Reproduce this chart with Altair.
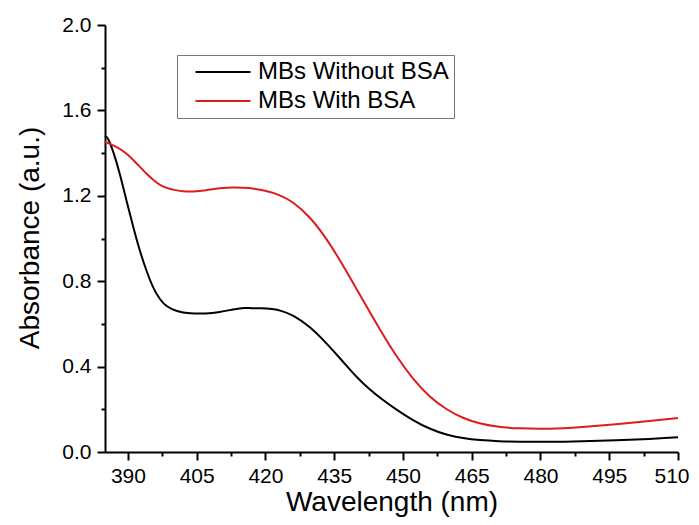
import altair as alt
import pandas as pd

series_names = ["MBs Without BSA", "MBs With BSA"]
series_colors = ["#000000", "#dd1c1c"]

wl_without = [385, 385.5, 386.8, 388.3, 389.7, 391.2, 392.6, 394.1, 395.5, 397, 398.4,
              400.6, 403.5, 407, 410, 413, 415.5, 417, 419, 421.5, 423.5, 426, 429.7,
              433.3, 436.9, 439.8, 442.5, 445.5, 448.6, 452.2, 455.8, 459.5, 463.1, 466.7,
              471, 475, 482, 489, 496.5, 504, 510]
abs_without = [1.475, 1.48, 1.41, 1.30, 1.175, 1.05, 0.94, 0.845, 0.767, 0.713, 0.681,
               0.658, 0.648, 0.648, 0.655, 0.668, 0.677, 0.672, 0.674, 0.67, 0.662, 0.642,
               0.588, 0.51, 0.424, 0.352, 0.297, 0.245, 0.198, 0.148, 0.108, 0.08, 0.064,
               0.055, 0.05, 0.048, 0.047, 0.05, 0.055, 0.061, 0.069]

wl_with = [385, 387.5, 389.7, 391.9, 394.1, 396.2, 397.3, 398.4, 400, 402, 404.2, 407.1,
           410, 413, 416.6, 418.8, 421, 423.1, 426, 429.7, 433.3, 436.9, 440.6, 444.5,
           448.4, 452.2, 455.8, 459.5, 463.1, 466.7, 470.4, 475, 482, 489, 496.5, 504, 510]
abs_with = [1.453, 1.43, 1.40, 1.352, 1.301, 1.262, 1.247, 1.237, 1.227, 1.221, 1.219,
            1.226, 1.236, 1.24, 1.237, 1.229, 1.218, 1.204, 1.173, 1.102, 1.001, 0.876,
            0.736, 0.59, 0.452, 0.34, 0.258, 0.198, 0.158, 0.133, 0.118, 0.11, 0.107,
            0.117, 0.13, 0.145, 0.159]

x_ticks = [390 + 7.5 * i for i in range(17)]
y_ticks = [round(0.2 * i, 1) for i in range(11)]

df = pd.concat([
    pd.DataFrame({"wl": wl_without, "A": abs_without, "series": series_names[0], "order": 0}),
    pd.DataFrame({"wl": wl_with, "A": abs_with, "series": series_names[1], "order": 1}),
])

FONT = "Liberation Sans"

x_axis = alt.Axis(
    values=x_ticks,
    labelExpr="datum.value % 15 == 0 ? datum.label : ''",
    tickSize={"condition": {"test": "datum.value % 15 == 0", "value": 8}, "value": 4},
    labelFlush=True,
    labelFlushOffset=11,
    labelOverlap=False,
    labelFont=FONT, labelFontSize=21, labelColor="#000", labelPadding=5,
    title="Wavelength (nm)", titleFont=FONT, titleFontSize=28, titleFontWeight="normal",
    titleColor="#000", titleY=58, titleBaseline="alphabetic",
    domainColor="#000", domainWidth=2, tickColor="#000", tickWidth=2,
    grid=False,
)
y_axis = alt.Axis(
    values=y_ticks,
    format=".1f",
    labelExpr="abs(datum.value*2.5 - round(datum.value*2.5)) < 0.001 ? datum.label : ''",
    tickSize={"condition": {"test": "abs(datum.value*2.5 - round(datum.value*2.5)) < 0.001", "value": 8}, "value": 4},
    labelOverlap=False,
    labelFlush=False,
    labelFont=FONT, labelFontSize=21, labelColor="#000", labelPadding=6,
    title="Absorbance (a.u.)", titleFont=FONT, titleFontSize=28, titleFontWeight="normal",
    titleColor="#000", titleAngle=270, titleX=-67, titleY=212.5, titleAlign="center",
    titleBaseline="alphabetic",
    domainColor="#000", domainWidth=2, tickColor="#000", tickWidth=2,
    grid=False,
)

chart = alt.Chart(df).mark_line(strokeWidth=2, interpolate="basis").encode(
    x=alt.X("wl:Q", scale=alt.Scale(domain=[385, 510], nice=False, zero=False), axis=x_axis),
    y=alt.Y("A:Q", scale=alt.Scale(domain=[0, 2], nice=False), axis=y_axis),
    color=alt.Color(
        "series:N",
        scale=alt.Scale(domain=series_names, range=series_colors),
        legend=alt.Legend(
            title=None, orient="none", legendX=72, legendY=30,
            symbolType="M-5,0H5", symbolSize=121, symbolStrokeWidth=2,
            labelFont=FONT, labelFontSize=24, labelColor="#000", labelOffset=23,
            labelLimit=400,
            padding=5, symbolOffset=29, rowPadding=5,
            strokeColor="#777", fillColor="white",
        ),
    ),
    order="order:Q",
).properties(
    width=573, height=427,
    autosize=alt.AutoSizeParams(type="none"),
    padding={"left": 97, "top": 17, "right": 13, "bottom": 65},
).configure_view(stroke=None)

chart.save("out.html", embed_options={"renderer": "svg", "actions": False})
